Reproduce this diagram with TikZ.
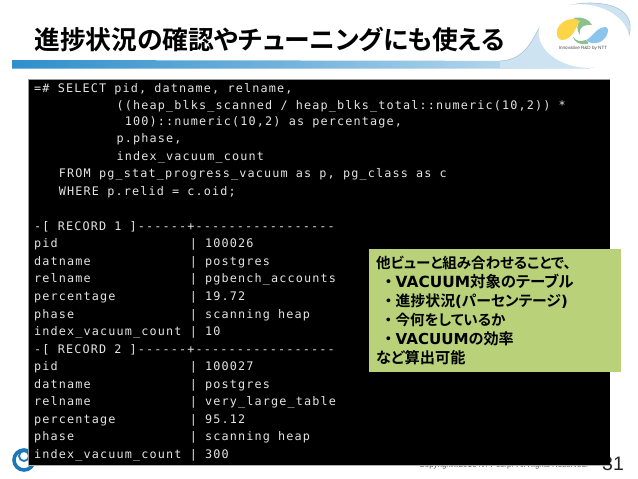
\documentclass[tikz,border=0pt]{standalone}
\usepackage{fontspec}
\setmainfont{Liberation Sans}
\newfontfamily\cjk{Noto Sans CJK JP}[BoldFont={Noto Sans CJK JP Bold},RawFeature=+palt]
\newfontfamily\latinbold{DejaVu Sans}
\newfontfamily\termfont{DejaVu Sans Mono}[LetterSpace=9.7]
\newcommand{\boxbullet}{\makebox[14.5pt]{・}}
\newcommand{\boxlatin}[1]{{\latinbold\bfseries #1}}
\definecolor{termtext}{HTML}{E4E4E4}
\definecolor{boxgreen}{HTML}{B9D27A}
\definecolor{barblue}{HTML}{2F8FCB}
\definecolor{barlight}{HTML}{CDE3F2}
\definecolor{logoedge}{HTML}{A9C4D6}
\definecolor{ringblue}{HTML}{1B78B8}
\definecolor{logoyellow}{HTML}{FBD448}
\definecolor{logogreen}{HTML}{8CC08C}
\definecolor{logoblue}{HTML}{8CC4EC}
\tikzset{
 termline/.style={anchor=base west,inner sep=0pt,text=termtext,font=\termfont\fontsize{11.8}{12}\selectfont},
 boxline/.style={anchor=base west,inner sep=0pt,text=black,font=\cjk\bfseries\fontsize{#1}{16}\selectfont},
 boxline/.default=14.5
}
\begin{document}
\begin{tikzpicture}[x=1pt,y=-1pt]
\useasboundingbox (0,0) rectangle (638,479);
\fill[white] (0,0) rectangle (638,479);
% title rule
\shade[left color=barblue,right color=barlight,middle color=barblue!55!barlight] (12,60) -- (12,68.5) -- (590,68.5) -- (590,61) -- cycle;
% logo swoosh and white oval
\fill[barlight] (500,61) .. controls (522,60) and (530,45) .. (538,30)
 .. controls (548,12) and (565,3) .. (590,3)
 .. controls (615,3) and (632,12) .. (630,30)
 .. controls (628,50) and (610,66) .. (587,68)
 -- (500,68.5) -- cycle;
\draw[logoedge,line width=0.6pt] (500,61) .. controls (522,60) and (530,45) .. (538,30)
 .. controls (548,12) and (565,3) .. (590,3)
 .. controls (615,3) and (632,12) .. (630,30)
 .. controls (628,50) and (610,66) .. (587,68);
\fill[white] (584,36) ellipse [x radius=45.5,y radius=31.5,rotate=-8];
% logo mark
\fill[logoyellow] (557,30) .. controls (560,22) and (568,17) .. (580,20)
 .. controls (576,28) and (572,40) .. (562,40) .. controls (558,40) and (556,35) .. (557,30) -- cycle;
\fill[logogreen] (573,18) .. controls (582,16) and (590,20) .. (592,25)
 .. controls (586,24) and (578,26) .. (580,35) .. controls (576,30) and (577,24) .. (580,21) -- cycle;
\fill[logoblue] (586,40) .. controls (592,38) and (596,27) .. (606,27)
 .. controls (610,28) and (608,38) .. (600,42) .. controls (595,44) and (590,44) .. (586,40) -- cycle;
\fill[logogreen] (573,37) .. controls (576,41) and (580,42) .. (586,40) .. controls (588,42) and (590,44) .. (586,44) .. controls (580,45) and (574,42) .. (573,37) -- cycle;
\node[inner sep=0pt,font=\fontsize{4.6}{5}\selectfont,text=black!70] (logotext) at (583,48.5) {Innovative R\&D by NTT};
% bottom left ring
\draw[ringblue,line width=3.6pt] (24,460) circle (10);
\draw[ringblue,line width=1.8pt] (24,456) circle (5);
% footer, partly covered by the terminal
\node[anchor=base west,inner sep=0pt,font=\fontsize{7.9}{9}\selectfont,text=black!65] (copy) at (419,467.5) {Copyright©2016 NTT corp. All Rights Reserved.};
\node[anchor=base west,inner sep=0pt,font=\fontsize{19.5}{22}\selectfont,text=black!85] (pageno) at (602,470.5) {31};
% terminal
\fill[black] (28,79) rectangle (610,465);
\draw[black!40,line width=0.7pt] (28,465) -- (28,79) -- (610,79);
\draw[black!30,line width=0.7pt] (28,465.3) -- (610,465.3);
% title
\node[anchor=base west,inner sep=0pt,font=\cjk\bfseries\fontsize{25.8}{28}\selectfont,text=black] (title) at (34,49.5) {進捗状況の確認やチューニングにも使える};
% terminal text
\node[termline] (l1) at (34,92) {=\# SELECT pid, datname, relname,};
\node[termline] (l2) at (34,109) {\ \ \ \ \ \ \ \ \ \ ((heap\_blks\_scanned / heap\_blks\_total::numeric(10,2)) *};
\node[termline] (l3) at (34,125) {\ \ \ \ \ \ \ \ \ \ \ 100)::numeric(10,2) as percentage,};
\node[termline] (l4) at (34,142) {\ \ \ \ \ \ \ \ \ \ p.phase,};
\node[termline] (l5) at (34,160) {\ \ \ \ \ \ \ \ \ \ index\_vacuum\_count};
\node[termline] (l6) at (34,177) {\ \ \ FROM pg\_stat\_progress\_vacuum as p, pg\_class as c};
\node[termline] (l7) at (34,195) {\ \ \ WHERE p.relid = c.oid;};
\node[termline] (l8) at (34,230) {-[ RECORD 1 ]------+-----------------};
\node[termline] (l9) at (34,247) {pid\ \ \ \ \ \ \ \ \ \ \ \ \ \ \ \ | 100026};
\node[termline] (l10) at (34,265) {datname\ \ \ \ \ \ \ \ \ \ \ \ | postgres};
\node[termline] (l11) at (34,282) {relname\ \ \ \ \ \ \ \ \ \ \ \ | pgbench\_accounts};
\node[termline] (l12) at (34,300) {percentage\ \ \ \ \ \ \ \ \ | 19.72};
\node[termline] (l13) at (34,318) {phase\ \ \ \ \ \ \ \ \ \ \ \ \ \ | scanning heap};
\node[termline] (l14) at (34,335) {index\_vacuum\_count | 10};
\node[termline] (l15) at (34,353) {-[ RECORD 2 ]------+-----------------};
\node[termline] (l16) at (34,370) {pid\ \ \ \ \ \ \ \ \ \ \ \ \ \ \ \ | 100027};
\node[termline] (l17) at (34,388) {datname\ \ \ \ \ \ \ \ \ \ \ \ | postgres};
\node[termline] (l18) at (34,405) {relname\ \ \ \ \ \ \ \ \ \ \ \ | very\_large\_table};
\node[termline] (l19) at (34,423) {percentage\ \ \ \ \ \ \ \ \ | 95.12};
\node[termline] (l20) at (34,440) {phase\ \ \ \ \ \ \ \ \ \ \ \ \ \ | scanning heap};
\node[termline] (l21) at (34,458) {index\_vacuum\_count | 300};
% green box
\fill[boxgreen] (369,249) rectangle (621,372);
\node[boxline] (b1) at (376,268) {他ビューと組み合わせることで、};
\node[boxline=15.4] (b2) at (381,287) {\boxbullet\boxlatin{VACUUM}対象のテーブル};
\node[boxline=14.85] (b3) at (381,306) {\boxbullet 進捗状況\boxlatin{(}パーセンテージ\boxlatin{)}};
\node[boxline] (b4) at (381,325) {\boxbullet 今何をしているか};
\node[boxline=15.1] (b5) at (381,344) {\boxbullet\boxlatin{VACUUM}の効率};
\node[boxline=15.2] (b6) at (376,363) {など算出可能};
\end{tikzpicture}
\end{document}
